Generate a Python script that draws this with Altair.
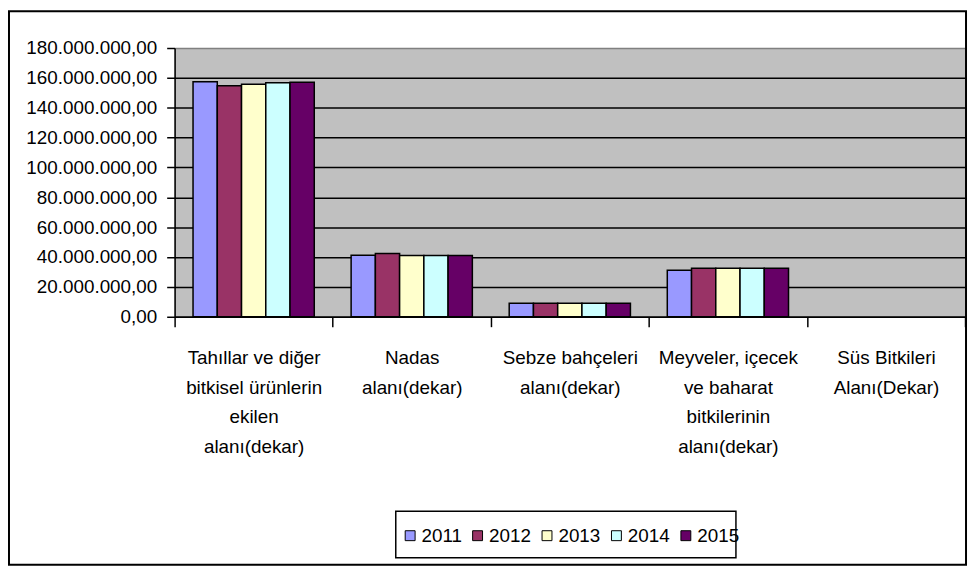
import altair as alt
import pandas as pd

categories = [
    "Tahıllar ve diğer|bitkisel ürünlerin|ekilen|alanı(dekar)",
    "Nadas|alanı(dekar)",
    "Sebze bahçeleri|alanı(dekar)",
    "Meyveler, içecek|ve baharat|bitkilerinin|alanı(dekar)",
    "Süs Bitkileri|Alanı(Dekar)",
]
years = ["2011", "2012", "2013", "2014", "2015"]
v2011 = [157400000, 41200000, 9100000, 31200000, 0]
v2012 = [154700000, 42300000, 9100000, 32500000, 0]
v2013 = [155800000, 41000000, 9100000, 32500000, 0]
v2014 = [156700000, 41000000, 9000000, 32500000, 0]
v2015 = [157000000, 41000000, 9000000, 32500000, 0]
colors = ["#9999FF", "#993366", "#FFFFCC", "#CCFFFF", "#660066"]
y_ticks = [0, 20000000, 40000000, 60000000, 80000000, 100000000,
           120000000, 140000000, 160000000, 180000000]

series = [v2011, v2012, v2013, v2014, v2015]
rows = []
for yr, vals in zip(years, series):
    for cat, v in zip(categories, vals):
        rows.append({"category": cat, "year": yr, "value": v})
df = pd.DataFrame(rows)

FONT = "Liberation Sans"
FS = 19
W, H = 797, 271

bars = alt.Chart(df).transform_filter("datum.value > 0").mark_bar(
    stroke="black", strokeWidth=1.5
).encode(
    x=alt.X("category:N", sort=categories,
            scale=alt.Scale(domain=categories, paddingInner=0, paddingOuter=0),
            axis=alt.Axis(title=None, labelAngle=0, labelExpr="split(datum.label, '|')",
                          tickBand="extent", tickSize=10, tickColor="black", tickWidth=1.5,
                          domainColor="black", domainWidth=1.5, labelPadding=22,
                          labelLineHeight=30, labelBaseline="top", grid=False)),
    xOffset=alt.XOffset("year:N", sort=years,
                        scale=alt.Scale(paddingInner=0, paddingOuter=0.76)),
    y=alt.Y("value:Q", scale=alt.Scale(domain=[0, 180000000], nice=False),
            axis=alt.Axis(title=None, values=y_ticks, tickSize=8, tickColor="black",
                          tickWidth=1.5, domainColor="black", domainWidth=1.5,
                          labelPadding=10,
                          labelExpr="replace(replace(replace(format(datum.value, ',.2f'), regexp(',', 'g'), '#'), regexp('\\\\.', 'g'), ','), regexp('#', 'g'), '.')",
                          grid=True, gridWidth=1.5,
                          gridColor={"condition": {"test": "datum.value >= 180000000", "value": "#808080"}, "value": "black"})),
    color=alt.Color("year:N", sort=years, scale=alt.Scale(domain=years, range=colors),
                    legend=alt.Legend(title=None, orient="none", legendX=228, legendY=482,
                                      direction="horizontal", columns=5, padding=0,
                                      symbolType="square", symbolSize=100,
                                      symbolStrokeColor="black", symbolStrokeWidth=1,
                                      labelFontSize=FS, labelFont=FONT, labelColor="black",
                                      labelOffset=2, columnPadding=6)),
)

border = alt.Chart(alt.Data(values=[{}])).mark_rect(
    fillOpacity=0, stroke="black", strokeWidth=2
).encode(
    x=alt.value(-167), x2=alt.value(798), y=alt.value(-37), y2=alt.value(521)
)

legend_box = alt.Chart(alt.Data(values=[{}])).mark_rect(
    fillOpacity=0, stroke="black", strokeWidth=1.5
).encode(
    x=alt.value(223), x2=alt.value(566), y=alt.value(467), y2=alt.value(514)
)

chart = alt.layer(bars, border, legend_box).properties(
    width=W, height=H,
    autosize=alt.AutoSizeParams(type="none"),
    padding={"left": 168, "top": 38, "right": 3, "bottom": 252},
).configure_view(
    fill="#C0C0C0", stroke="#808080", strokeWidth=1
).configure_axis(
    labelFont=FONT, labelFontSize=FS, labelColor="black"
)

chart.save("out.html", embed_options={"renderer": "svg", "actions": False})
